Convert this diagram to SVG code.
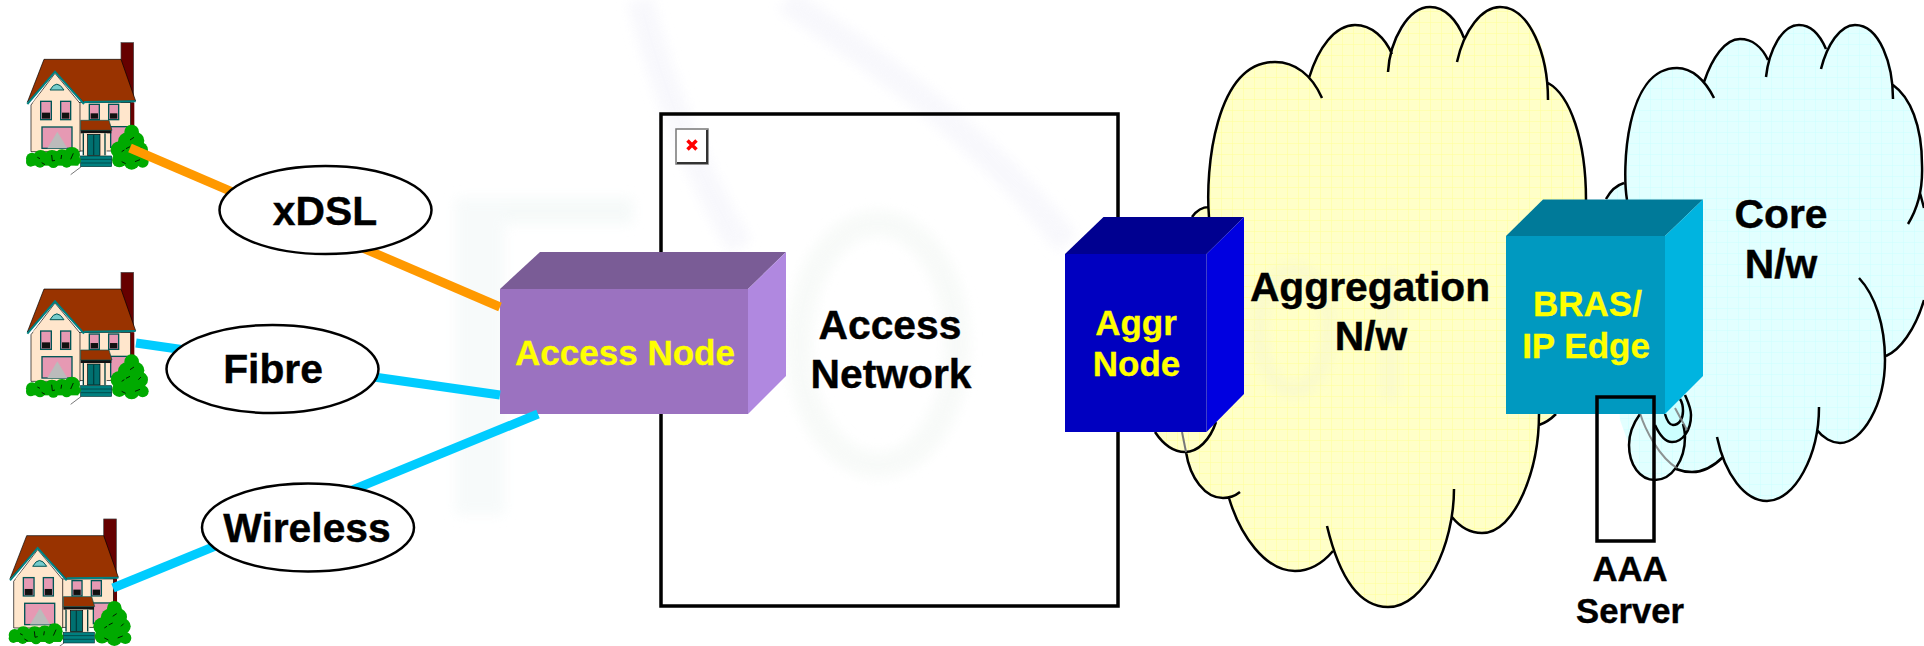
<svg xmlns="http://www.w3.org/2000/svg" width="1924" height="646" viewBox="0 0 1924 646">
<style>
text{font-family:"Liberation Sans",Arial,sans-serif;font-weight:bold;text-anchor:middle}
.b{font-size:40.8px;fill:#000;stroke:#000;stroke-width:.4}
.y{font-size:35px;fill:#ff0;stroke:#ff0;stroke-width:.3}
.s{font-size:34.67px;fill:#000;stroke:#000;stroke-width:.4}
.cl{fill:none;stroke:#000;stroke-width:2.5;stroke-linecap:butt}
.link{fill:none;stroke-width:9}
.lbl{fill:#fff;stroke:#000;stroke-width:2.5}
.box{fill:none;stroke:#000;stroke-width:3.5}
.wm{fill:none;stroke-width:26}
.roof{fill:#930;stroke:#000;stroke-width:2}
.tr{fill:none;stroke:#008080;stroke-width:6}
.wall{fill:#ffe6cc;stroke:#000;stroke-width:2}
.win{fill:#e699b3;stroke:#005555;stroke-width:4}
.dk{fill:#111}
.bush{fill:#0a0}
.lf{fill:none;stroke:#000;stroke-width:2.5}
</style>
<defs>
<filter id="blur" x="-20%" y="-20%" width="140%" height="140%"><feGaussianBlur stdDeviation="6"/></filter>
<pattern id="gy" width="11" height="11" patternUnits="userSpaceOnUse"><rect width="11" height="11" fill="#ffffc8"/><path d="M0 0H11M0 0V11" stroke="#ffff99" stroke-width="1"/></pattern>
<pattern id="gc" width="11" height="11" patternUnits="userSpaceOnUse"><rect width="11" height="11" fill="#e2ffff"/><path d="M0 0H11M0 0V11" stroke="#ccffff" stroke-width="1"/></pattern>
<g id="house" transform="scale(.3333)">
<rect x="303" y="8" width="38" height="180" fill="#600" stroke="#444" stroke-width="2"/>
<rect x="328" y="188" width="15" height="70" fill="#600"/>
<rect x="178" y="188" width="154" height="145" class="wall"/>
<polygon points="105,100 180,190 180,335 33,335 33,195" class="wall"/>
<polygon points="72,58 303,58 347,183 192,188 105,95 22,187" class="roof"/>
<polygon points="105,108 172,188 38,188" fill="#ffe6cc"/>
<path d="M22 192L105 95L192 192M192 186L347 184" class="tr"/>
<path d="M90 150Q110 115 132 150Z" fill="#7cc" stroke="#005555" stroke-width="3"/>
<rect x="62" y="184" width="32" height="55" class="win"/><rect x="66" y="218" width="24" height="18" class="dk"/>
<rect x="122" y="184" width="30" height="55" class="win"/><rect x="126" y="218" width="22" height="18" class="dk"/>
<rect x="208" y="193" width="30" height="46" class="win"/><rect x="212" y="220" width="22" height="16" class="dk"/>
<rect x="266" y="193" width="30" height="46" class="win"/><rect x="270" y="220" width="22" height="16" class="dk"/>
<rect x="66" y="261" width="90" height="64" class="win"/>
<path d="M82 325L112 275L142 325Z" fill="#bbb"/>
<rect x="272" y="260" width="50" height="62" class="win"/>
<rect x="182" y="270" width="92" height="10" fill="#111"/>
<polygon points="182,241 267,241 276,271 182,271" fill="#930" stroke="#005555" stroke-width="2"/>
<rect x="190" y="280" width="70" height="68" fill="#ffe6cc"/>
<rect x="203" y="283" width="37" height="63" fill="#007070" stroke="#000" stroke-width="2"/>
<path d="M190 280V346M255 280V346M221 283V346" stroke="#004040" stroke-width="4" fill="none"/>
<rect x="182" y="348" width="93" height="32" fill="#008080" stroke="#003333" stroke-width="2"/>
<path d="M182 358H275M182 369H275" stroke="#003333" stroke-width="2"/>
<path d="M152 404L184 380" stroke="#333" stroke-width="2"/>
<g class="bush">
<rect x="30" y="345" width="145" height="32"/>
<circle cx="36" cy="356" r="18"/><circle cx="62" cy="352" r="22"/><circle cx="96" cy="354" r="24"/><circle cx="126" cy="352" r="24"/><circle cx="156" cy="345" r="24"/><circle cx="32" cy="366" r="14"/><circle cx="168" cy="362" r="14"/><circle cx="60" cy="368" r="15"/><circle cx="100" cy="368" r="16"/><circle cx="140" cy="368" r="15"/>
<circle cx="335" cy="276" r="22"/><circle cx="322" cy="305" r="28"/><circle cx="348" cy="302" r="25"/><circle cx="298" cy="330" r="26"/><circle cx="330" cy="335" r="34"/><circle cx="360" cy="330" r="24"/><circle cx="298" cy="360" r="22"/><circle cx="335" cy="365" r="24"/><circle cx="368" cy="365" r="18"/>
</g>
<path class="lf" d="M52 352l8 4M95 345l2 18l8-2M125 345l-2 12M160 340l-8 18M65 368l10 6M330 300l12-8M305 335l8-5M330 320l-12 6M345 365l15-6M305 365l12 6M355 330l8-8" />
</g>
</defs>

<rect width="1924" height="646" fill="#fff"/>

<g id="watermark" filter="url(#blur)" opacity=".65">
<path d="M455 211H633" class="wm" stroke="#f1f7f6"/>
<path d="M480 200V515" stroke="#f3f8f8" stroke-width="50" fill="none"/>
<ellipse cx="878" cy="344" rx="79" ry="121" class="wm" stroke="#f4f8f5"/>
<path d="M640 0C660 80 690 160 740 247" class="wm" stroke="#f4f4fb"/>
<path d="M786 0C860 50 980 130 1067 243" class="wm" stroke="#f4f4fb"/>
</g>

<g id="aggregation-cloud">
<path fill="url(#gy)" d="M1155 432L1192 217C1197 210,1203 207,1209 207C1205 170,1215 62,1275 62C1290 62,1300 68,1309 78C1318 48,1335 25,1355 25C1372 25,1385 38,1392 54C1399 30,1415 7,1430 7C1445 7,1457 20,1464 38C1472 20,1485 7,1500 7C1530 7,1548 50,1548 83C1570 95,1586 140,1586 200L1560 410L1539 425C1539 470,1515 533,1482 533C1470 533,1460 527,1452 517C1440 570,1415 607,1388 607C1365 607,1345 585,1333 551C1322 564,1310 571,1295 571C1265 571,1240 535,1229 498L1223 498C1205 498,1190 478,1186 452C1175 452,1167 448,1155 432Z"/>
<path class="cl" d="M1209 217C1205 170,1215 62,1275 62C1295 62,1312 75,1322 98M1309 78C1318 48,1335 25,1355 25C1372 25,1385 38,1392 54M1388 72C1390 40,1408 7,1430 7C1445 7,1457 20,1464 38M1457 62C1464 30,1482 7,1500 7C1530 7,1548 55,1548 100M1548 83C1570 95,1586 140,1586 200M1539 414C1539 470,1515 533,1482 533C1470 533,1460 527,1452 517M1539 425C1545 423,1552 418,1556 414M1454 489C1454 545,1425 607,1388 607C1360 607,1340 580,1327 526M1333 551C1322 564,1310 571,1295 571C1265 571,1240 535,1229 498M1240 492C1235 496,1230 498,1223 498C1205 498,1190 478,1186 452M1155 432C1165 447,1175 452,1185 452C1198 452,1210 440,1216 422M1192 217C1197 210,1203 207,1209 207"/>
<path d="M1182 432L1186 452" stroke="#777" stroke-width="2" fill="none"/>
<g filter="url(#blur)" opacity=".5"><ellipse cx="1294" cy="330" rx="35" ry="60" fill="none" stroke="#f4f4d0" stroke-width="14"/><path d="M1390 268V400" stroke="#f4f4d0" stroke-width="14"/></g>
</g>

<g id="core-cloud">
<path fill="url(#gc)" d="M1620 420L1606 199C1611 190,1617 185,1624 183C1622 130,1640 68,1677 68C1688 68,1697 74,1704 82C1712 58,1725 39,1740 39C1752 39,1762 47,1768 60C1775 40,1785 25,1799 25C1811 25,1820 35,1826 49C1832 35,1842 25,1855 25C1880 25,1893 60,1893 85C1910 97,1922 125,1922 165L1924 208L1924 300C1915 330,1900 350,1886 356C1885 405,1862 443,1840 443C1832 443,1823 438,1817 430C1808 470,1790 501,1767 501C1747 501,1730 483,1723 457C1713 467,1703 472,1692 472C1686 472,1681 471,1676 469C1670 476,1663 480,1655 480C1640 480,1629 465,1629 445Z"/>
<path d="M1655 425C1660 436,1665 442,1672 442C1683 442,1691 430,1691 415L1685 395L1655 414Z" fill="#ccffff"/>
<path class="cl" d="M1627 200C1622 170,1625 68,1677 68C1692 68,1705 80,1714 98M1704 82C1712 58,1725 39,1740 39C1752 39,1762 47,1768 60M1766 77C1769 50,1782 25,1799 25C1811 25,1820 35,1826 49M1821 69C1827 45,1840 25,1855 25C1880 25,1893 65,1893 99M1893 85C1910 97,1922 125,1922 165C1923 190,1918 208,1908 224M1920 193L1924 208M1924 300C1915 330,1900 350,1886 356M1859 278C1875 295,1885 325,1885 360C1885 405,1862 443,1840 443C1832 443,1823 438,1817 430M1819 407C1819 455,1795 501,1767 501C1745 501,1725 475,1717 437M1723 457C1713 467,1703 472,1692 472C1686 472,1681 471,1676 469M1640 414C1632 425,1629 435,1629 445C1629 465,1640 480,1655 480C1672 480,1685 460,1685 437C1685 432,1684 428,1683 424M1655 425C1660 436,1665 442,1672 442C1683 442,1691 430,1691 415C1691 408,1688 402,1685 395M1665 414C1667 421,1669 425,1673 425C1679 425,1683 419,1683 411C1683 406,1682 402,1680 399M1606 199C1611 190,1617 185,1624 183"/>
<path d="M1640 413C1645 430,1660 458,1677 468M1675 408L1687 430" stroke="#777" stroke-width="2" fill="none" opacity=".8"/>
</g>

<g id="access-network">
<rect x="661" y="114" width="457" height="492" class="box"/>
<g id="broken-image">
<rect x="676" y="129" width="32" height="35" fill="#fff" stroke="#777" stroke-width="1.5"/>
<path d="M707 130V163H677" fill="none" stroke="#333" stroke-width="2"/>
<path d="M687.500 140.500L696.500 149.500M696.500 140.500L687.500 149.500" stroke="#f00" stroke-width="3.500" fill="none"/>
</g>
<text class="b" x="890" y="339">Access</text>
<text class="b" x="891" y="388">Network</text>
</g>

<g id="house-1"><use href="#house" transform="translate(20 40)"/></g>
<g id="house-2"><use href="#house" transform="translate(20 269.700)"/></g>
<g id="house-3"><use href="#house" transform="translate(2.700 516.300)"/></g>

<g id="access-node">
<polygon points="500,289 540,252 786,252 748,289" fill="#7a5c96"/>
<polygon points="748,289 786,252 786,376 748,414" fill="#b088e0"/>
<rect x="500" y="289" width="248" height="125" fill="#9b72c0"/>
<text class="y" x="625" y="365">Access Node</text>
</g>

<g id="aggr-node">
<polygon points="1065,254 1103.500,217 1244,217 1206.500,254" fill="#000090"/>
<polygon points="1206.500,254 1244,217 1244,394 1206.500,432" fill="#0000e0"/>
<rect x="1065" y="254" width="141.500" height="178" fill="#0000c0"/>
<text class="y" x="1136" y="334.500">Aggr</text>
<text class="y" x="1136.500" y="376">Node</text>
</g>

<g id="connectors">
<path class="link" stroke="#f90" d="M130 148L500 307"/>
<path class="link" stroke="#0cf" d="M136 343L500 395"/>
<path class="link" stroke="#0cf" d="M113 588L538 414"/>
</g>

<g id="bras">
<polygon points="1506,236 1543,199.500 1703,199.500 1665,236" fill="#007a99"/>
<polygon points="1665,236 1703,199.500 1703,376 1665,414" fill="#00b4e0"/>
<rect x="1506" y="236" width="159" height="178" fill="#0099c0"/>
<text class="y" x="1587.500" y="316">BRAS/</text>
<text class="y" x="1586" y="358">IP Edge</text>
</g>

<g id="aaa-server">
<rect x="1597" y="397" width="57" height="144" class="box"/>
<text class="s" x="1630" y="581">AAA</text>
<text class="s" x="1630" y="623">Server</text>
</g>

<g id="label-xdsl"><ellipse cx="325.500" cy="210" rx="106" ry="44" class="lbl"/><text class="b" x="325" y="225">xDSL</text></g>
<g id="label-fibre"><ellipse cx="272.500" cy="369" rx="106" ry="44" class="lbl"/><text class="b" x="273" y="383">Fibre</text></g>
<g id="label-wireless"><ellipse cx="308" cy="527.500" rx="106" ry="44" class="lbl"/><text class="b" x="307" y="542">Wireless</text></g>

<text class="b" x="1370" y="301">Aggregation</text>
<text class="b" x="1371" y="350">N/w</text>
<text class="b" x="1781" y="228">Core</text>
<text class="b" x="1781" y="278">N/w</text>
</svg>
